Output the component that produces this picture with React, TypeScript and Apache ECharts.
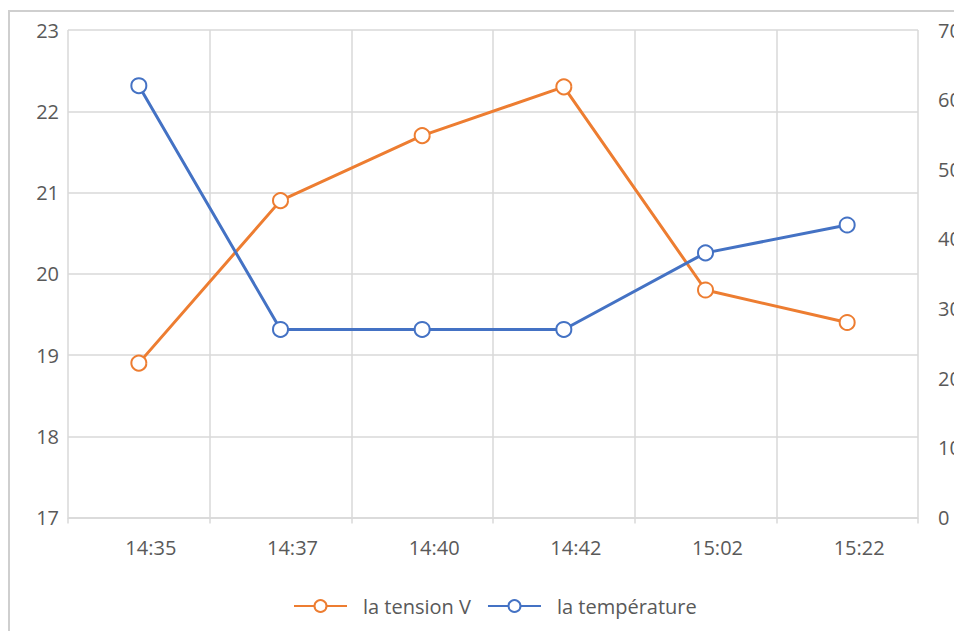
import React, { useEffect, useRef } from "react";
import * as echarts from "echarts";

const categories = ["14:35", "14:37", "14:40", "14:42", "15:02", "15:22"];
const tension = [18.9, 20.9, 21.7, 22.3, 19.8, 19.4];
const temperature = [62, 27, 27, 27, 38, 42];
const seriesNames = ["la tension V", "la température"];

const ORANGE = "#ED7D31";
const BLUE = "#4472C4";
const GRID = "#d9d9d9";
const TEXT = "#595959";
const FONT = "Open Sans";
const FS = 20;

export default function App() {
  const ref = useRef<HTMLDivElement>(null);
  useEffect(() => {
    if (!ref.current) return;
    const chart = echarts.init(ref.current, null, { renderer: "svg" });
    chart.setOption({
      animation: false,
      backgroundColor: "#ffffff",
      textStyle: { fontFamily: FONT },
      graphic: [
        {
          type: "rect",
          shape: { x: 9, y: 11, width: 1000, height: 700 },
          style: { fill: "none", stroke: "#cfcfcf", lineWidth: 2 },
          silent: true,
        },
      ],
      grid: { left: 68, right: 36, top: 30, bottom: 113.5, containLabel: false, outerBoundsMode: "none" },
      legend: {
        left: 293,
        top: 596,
        padding: 0,
        itemWidth: 53,
        itemHeight: 15,
        itemGap: 16,
        textStyle: { color: TEXT, fontSize: FS, fontFamily: FONT, padding: [0, 0, 0, 11] },
        data: seriesNames,
      },
      xAxis: {
        type: "category",
        data: categories,
        boundaryGap: true,
        axisLine: { show: true, lineStyle: { color: GRID, width: 1.5 } },
        axisTick: { show: true, length: 6, lineStyle: { color: GRID, width: 1.5 } },
        splitLine: { show: true, lineStyle: { color: GRID, width: 1.5 } },
        axisLabel: { color: TEXT, fontSize: FS, fontFamily: FONT, margin: 20, padding: [0, 0, 0, 24] },
      },
      yAxis: [
        {
          type: "value",
          min: 17,
          max: 23,
          interval: 1,
          position: "left",
          axisLine: { show: false },
          axisTick: { show: false },
          splitLine: { show: true, lineStyle: { color: GRID, width: 1.5 } },
          axisLabel: { color: TEXT, fontSize: FS, fontFamily: FONT, margin: 9 },
        },
        {
          type: "value",
          min: 0,
          max: 70,
          interval: 10,
          position: "right",
          axisLine: { show: false },
          axisTick: { show: false },
          splitLine: { show: false },
          axisLabel: { color: TEXT, fontSize: FS, fontFamily: FONT, margin: 20 },
        },
      ],
      series: [
        {
          name: seriesNames[0],
          type: "line",
          yAxisIndex: 0,
          data: tension,
          symbol: "emptyCircle",
          symbolSize: 15,
          color: ORANGE,
          lineStyle: { color: ORANGE, width: 3 },
          itemStyle: { color: ORANGE, borderWidth: 2.75 },
        },
        {
          name: seriesNames[1],
          type: "line",
          yAxisIndex: 1,
          data: temperature,
          symbol: "emptyCircle",
          symbolSize: 15,
          color: BLUE,
          lineStyle: { color: BLUE, width: 3 },
          itemStyle: { color: BLUE, borderWidth: 2.75 },
        },
      ],
    });
    return () => chart.dispose();
  }, []);
  return (
    <div
      ref={ref}
      style={{ position: "absolute", left: 0, top: 0, width: 954, height: 631 }}
    />
  );
}
